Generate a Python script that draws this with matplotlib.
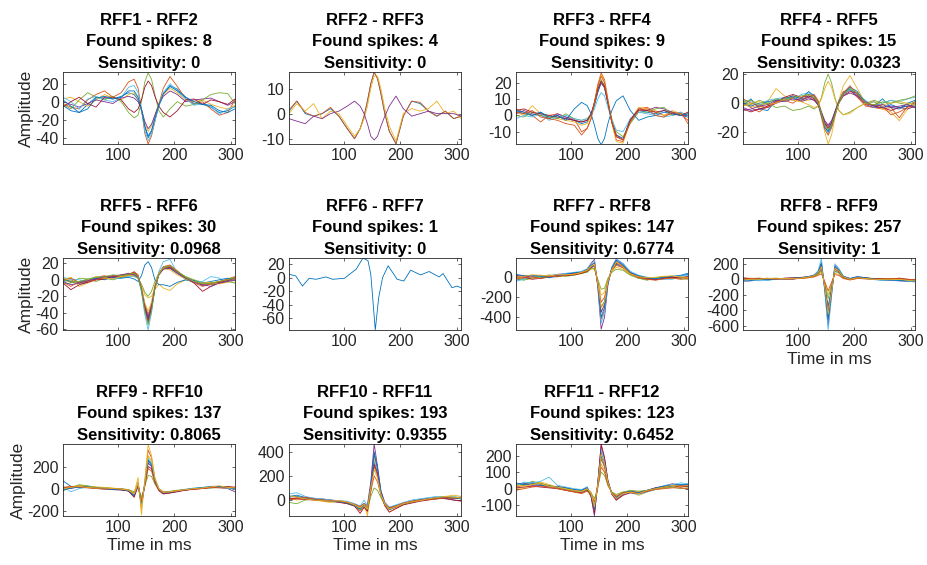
import matplotlib
matplotlib.use('Agg')
import matplotlib.pyplot as plt

plt.rcParams['font.family'] = ['Liberation Sans', 'DejaVu Sans']
plt.rcParams['axes.unicode_minus'] = False

# MATLAB default line colour order
COLORS = ['#0072BD', '#D95319', '#EDB120', '#7E2F8E', '#77AC30', '#4DBEEE', '#A2142F']

# DATA
# sample times (ms) where the waveforms were read off the picture
t = [1, 15, 30, 45, 60, 75, 90, 105, 118, 128, 135, 141, 147, 153, 159, 165, 172, 180, 192, 205, 220, 235, 250, 265, 280, 295, 308]

pairs = ['RFF1 - RFF2', 'RFF2 - RFF3', 'RFF3 - RFF4', 'RFF4 - RFF5', 'RFF5 - RFF6', 'RFF6 - RFF7',
         'RFF7 - RFF8', 'RFF8 - RFF9', 'RFF9 - RFF10', 'RFF10 - RFF11', 'RFF11 - RFF12']
found = [8, 4, 9, 15, 30, 1, 147, 257, 137, 193, 123]
sens = ['0', '0', '0', '0.0323', '0.0968', '0', '0.6774', '1', '0.8065', '0.9355', '0.6452']

p1 = [
    [-4, -10, -12, -3, 5, 4, 3, 6, 10, 8, 2, -10, -28, -40, -33, -20, -5, 8, 18, 14, 5, -2, -3, -6, -12, -10, -5],
    [-2, -6, -8, 2, 8, 12, 5, 10, 22, 25, 15, -8, -35, -47, -38, -22, -3, 15, 28, 17, 3, -3, 0, -8, -15, -12, 2],
    [3, 5, 0, -5, 2, 8, 4, 2, 8, 10, 4, -8, -24, -33, -27, -15, -2, 8, 15, 10, 2, 0, 2, -3, -6, -8, -4],
    [0, -3, -6, -2, 2, 0, -2, 4, 6, 4, 0, -8, -22, -30, -25, -15, -3, 6, 12, 8, 0, 2, 3, 4, 0, -4, 0],
    [-3, -8, 2, 10, 5, 2, 6, 0, -12, -18, -15, 0, 22, 32, 25, 8, -10, -17, -8, 0, -5, -3, 2, 8, 10, 9, -2],
    [5, 0, -8, 3, 6, 2, 0, 5, 16, 18, 10, -8, -32, -43, -36, -22, -5, 10, 20, 12, 3, -4, -2, -5, -14, -8, -6],
    [-6, 0, 5, -2, -6, 5, 5, 2, -8, -12, -8, 2, 16, 23, 18, 6, -5, -12, -17, -10, 2, 3, -3, 2, 0, -3, 3],
    [2, -5, -12, -8, 4, 6, 3, 5, 12, 12, 5, -8, -27, -38, -32, -18, -4, 9, 17, 12, 5, 0, -3, -4, -10, -12, -8],
]
p2 = [
    [1, 5, 0, -1, 0, 2, -1, -6, -10, -6, -1, 5, 12, 16.5, 14, 8, 0, -7, -12, -1, 5, 4, 1, -1, 1, -2, -1],
    [1.5, 5, 0.5, -1, 0, 2.5, -1, -6, -10, -6, -1, 5, 12, 16.5, 14, 8, 0, -7, -12, -1, 5, 4.5, 1, -1, 1, -2, -1],
    [0, 4, 1, 4, -2, 1, 0, -5, -9, -6, -2, 3, 10, 15, 15, 10, 2, -5, -11, 0, 2, 1, 2, 5, 0, 1, -2],
    [-2, -3, -4, -1, -2, 0, 1, 3, 5, 3, 0, -4, -9, -10.5, -9, -5, -1, 3, 7, 2, -1, 0, 1, 0, 0, 0, -1],
]
p3 = [
    [3, 1, 0, 2, -2, 0, -2, -3, -5, -4, 0, 6, 14, 20, 17, 8, -3, -12, -14, -3, 3, 2, 1, 3, 2, 0, -1],
    [4, 2, 0, -4, 0, 1, -1, -2, -10, -8, -2, 8, 19, 26, 22, 10, -4, -15, -16, -4, 4, 5, 2, 0, 1, 2, -5],
    [2, 0, 6, 1, 0, -2, -3, -4, -6, -5, 0, 8, 18, 25, 21, 9, -5, -16, -17, -3, 5, 4, 3, 0, 3, 1, 0],
    [1, 3, 1, 0, -2, 1, -1, -3, -4, -3, 1, 7, 15, 20, 17, 7, -4, -12, -15, -2, 3, 3, 5, 4, 2, 0, 0],
    [0, -1, 2, 0, -1, -2, 1, -2, -3, -2, 1, 7, 16, 22, 18, 8, -2, -10, -13, -5, 2, 2, 4, 5, 0, 1, 1],
    [-2, 0, -1, 1, -3, -1, 0, -2, -3, -2, 0, 4, 10, 14, 12, 5, -3, -9, -10, -2, 2, 1, 0, -1, 0, 2, 0],
    [3, 4, 2, 1, 0, -1, -2, -3, -4, -3, 1, 8, 16, 21, 18, 8, -4, -13, -15, -3, 4, 3, 2, 3, 1, 0, 2],
    [3, 2, 0, 2, -1, 0, -3, 4, 8, 6, 1, -6, -14, -18, -14, -5, 3, 9, 12, 3, -3, -1, 0, 2, 1, 0, 1],
    [2, 1, 3, -1, -2, -3, -5, -6, -12, -8, -2, 8, 18, 24, 20, 9, -4, -13, -15, -4, 3, 4, 0, -1, 2, 1, -3],
]
p4 = [
    [-2, 3, -4, -5, 2, 3, 4, 2, 5, 4, 0, -8, -16, -20, -16, -8, 0, 6, 10, 6, 0, -2, 3, -3, -4, 0, 2],
    [0, -3, -6, -2, 0, 3, 5, 3, 4, 6, 2, -6, -14, -18, -14, -6, 2, 8, 9, 4, -2, -3, -4, -3, -10, -2, -1],
    [-1, -2, -3, 1, 10, 5, 3, 2, 2, 3, -1, -10, -20, -28, -22, -10, 2, 12, 19, 10, 0, -2, -4, -6, -12, -4, 0],
    [-3, -5, -4, -3, 0, 2, 4, 1, 3, 2, -1, -7, -13, -16, -13, -6, 1, 6, 9, 5, -1, -3, -3, -2, -3, -4, -2],
    [1, -1, 2, 0, -3, -2, -5, -4, -2, -4, -2, 4, 14, 20, 14, 4, -5, -8, -6, -3, 0, 2, 0, 2, 0, -1, 1],
    [2, 1, -2, 2, 3, 4, 2, 6, 7, 5, 0, -8, -16, -21, -16, -7, 1, 7, 9, 6, 2, -3, 0, 2, 1, 3, 4],
    [-4, -6, -4, -2, 1, 4, 6, 4, 5, 3, -1, -7, -14, -17, -14, -7, 0, 5, 8, 7, 0, -2, -3, -5, -3, -2, -3],
    [0, -2, 0, 1, 2, 3, 5, 3, 8, 5, 0, -9, -17, -19, -15, -7, 1, 7, 11, 8, 0, 1, -3, -1, -3, -2, -1],
    [3, 0, -2, -3, 1, 2, 0, 4, 6, 5, 1, -8, -18, -22, -17, -9, 0, 7, 12, 6, -1, -1, -2, -8, -6, -3, 1],
    [-2, 0, 1, -1, 0, 3, 2, 1, -1, -3, -2, 3, 10, 15, 11, 3, -5, -8, -7, -3, 0, 1, -1, 0, 1, 0, -1],
    [-5, -4, -2, -1, 2, 1, 3, 2, 4, 2, -1, -6, -12, -15, -12, -6, 1, 5, 7, 5, 1, -2, -1, -3, -2, -1, -3],
    [1, 2, -1, 0, 3, 2, 4, 5, 6, 4, 0, -7, -15, -18, -15, -8, 0, 6, 10, 7, 0, -1, 1, 0, 2, 3, 5],
]
p5 = [
    [-2, 0, -5, -3, 2, 0, 3, 4, 5, 6, 3, -10, -30, -45, -30, -8, 8, 15, 14, 8, 2, -2, -5, -4, -3, 0, 2],
    [-3, -8, -2, 0, 3, 5, 2, 5, 7, 8, 4, -12, -35, -50, -35, -10, 6, 14, 16, 10, 3, -3, -6, -4, -2, 1, 4],
    [0, 3, -8, -4, 0, 2, 4, 3, 6, 5, 2, -8, -18, -22, -20, -12, -5, -10, -13, -5, 0, -2, -4, -6, -3, -2, -3],
    [2, -3, -4, -2, 1, 3, 5, 6, 8, 7, 3, -12, -36, -52, -36, -10, 7, 15, 17, 9, 3, -1, -7, -5, -4, -1, 1],
    [-5, -4, 2, 1, -2, 2, 0, 3, 5, 4, 2, -5, -15, -20, -14, -2, 8, 14, 15, 10, 4, 0, -3, -6, -4, -2, -4],
    [3, 1, 0, -2, 3, 4, 1, 2, 4, 5, 2, -15, -42, -61, -40, -10, 10, 22, 25, 8, 0, -3, -2, 4, 2, -3, 0],
    [-4, -12, -6, -3, 0, 1, 4, 5, 7, 9, 5, -10, -32, -48, -34, -10, 6, 13, 15, 10, 2, -4, -14, -8, -3, -1, 3],
    [1, -2, -3, 0, 2, 4, 3, 2, 3, 1, -2, 5, 18, 22, 15, 0, -6, -6, -8, -3, 0, -1, -4, -2, 0, 2, 0],
    [-1, 2, -3, -2, 0, 3, 5, 4, 6, 10, 6, -10, -30, -42, -30, -8, 7, 16, 18, 11, 2, -4, -8, -5, -2, 0, 2],
    [2, -1, -5, 0, 4, 2, 1, 4, 5, 6, 3, -9, -28, -38, -27, -6, 8, 14, 12, 6, 1, -2, -4, -3, -5, -3, 1],
    [-2, -6, -4, -1, 1, 4, 3, 6, 7, 6, 3, -11, -34, -47, -33, -9, 6, 13, 14, 8, 2, -3, -6, -8, -4, -2, 0],
    [0, -3, -2, 1, 3, 4, 6, 5, 7, 8, 4, -13, -38, -55, -38, -11, 6, 15, 17, 10, 3, -2, -5, -4, -2, 0, 3],
]
# single spike, read on its own time points
t6 = [1, 13, 25, 37, 49, 67, 79, 100, 121, 133, 142, 147, 155, 161, 168, 178, 194, 206, 218, 236, 251, 269, 276, 292, 301, 308]
p6 = [
    [5, 2.5, -12.5, -1, -2.5, 1, -2.5, -1, 12.5, 29, 25, 5, -77.5, -30, 0, 17.5, -2.5, -5, 11, 4, 9, 1, 6, -15, -12.5, -15],
]
p7 = [
    [-30, -10, 10, 0, 15, 20, 25, 40, 45, 60, 95, 110, -60, -300, -240, -40, 80, 130, 100, 40, 0, -20, -10, 0, -5, 10, 30],
    [10, 20, 0, 15, 10, 5, 30, 25, 50, 70, 120, 150, -80, -420, -330, -60, 90, 160, 110, 30, -10, -20, -15, -5, 5, 0, -5],
    [0, -20, -15, 5, 25, 10, 20, 30, 35, 55, 80, 90, -30, -180, -150, -20, 60, 100, 80, 30, 5, 0, -10, -20, 10, 5, 0],
    [20, 5, 10, 20, 10, 30, 35, 40, 55, 80, 140, 180, -100, -520, -400, -80, 100, 185, 130, 50, 10, -10, -20, -10, 0, -10, 10],
    [-10, -30, -5, 0, 5, 15, 10, 20, 40, 50, 90, 80, -20, -120, -110, -10, 50, 80, 70, 20, -10, -30, -5, 10, 0, -15, -20],
    [-40, -20, 10, 15, 20, 25, 40, 50, 60, 85, 130, 170, -90, -460, -350, -70, 100, 180, 140, 60, 20, 0, -10, -20, -20, 10, 20],
    [5, 0, -20, -10, 0, 20, 15, 25, 40, 60, 100, 120, -70, -350, -270, -50, 80, 140, 110, 40, 0, -15, -25, -10, 0, -5, 5],
    [30, 15, 20, 10, -5, 10, 30, 45, 50, 75, 120, 140, -60, -400, -300, -60, 90, 170, 120, 45, 15, -5, -15, 0, 10, 20, 40],
    [-15, -5, 5, -15, 10, 5, 20, 35, 45, 65, 105, 125, -50, -250, -200, -40, 70, 120, 95, 35, 0, -20, -30, -15, -10, -20, -10],
    [0, 10, 25, 20, 15, 25, 25, 30, 50, 70, 110, 130, -60, -300, -250, -40, 75, 150, 105, 35, 5, -5, 0, 10, 15, 0, 0],
]
p8 = [
    [-20, 0, 10, -10, 5, 0, 10, 20, 30, 40, 70, 120, -80, -350, -120, 100, 90, 20, 0, 20, 10, 0, -10, 0, -10, -20, -30],
    [10, -10, 0, 15, 0, 10, 5, 15, 25, 50, 90, 180, -100, -500, -150, 150, 110, 30, 5, 25, 15, 5, 0, -5, 10, -10, -15],
    [0, 15, 5, 0, 10, -5, 15, 10, 20, 35, 60, 90, -40, -200, -60, 80, 60, 15, -5, 10, 20, 10, 5, 0, -5, -5, -10],
    [-30, -20, -10, 0, -5, 5, 0, 20, 35, 55, 100, 220, -150, -600, -200, 180, 130, 40, 10, 30, 20, 0, -10, -15, -20, -30, -25],
    [5, 10, -5, 10, 15, 5, 10, 15, 25, 40, 70, 110, -60, -250, -80, 110, 80, 20, 0, 15, 5, 5, 10, 10, 0, -10, -20],
    [-35, -10, -20, -15, 0, 0, 10, 20, 30, 55, 110, 270, -160, -656, -220, 200, 140, 40, 5, 25, 10, -5, -15, -10, -20, -25, -35],
    [15, 5, 10, 5, 0, 15, 20, 25, 30, 45, 80, 150, -90, -420, -140, 130, 100, 25, 0, 20, 15, 10, 5, 0, 15, 0, -10],
    [0, -15, 5, -5, 10, 10, 15, 20, 35, 50, 90, 200, -120, -520, -180, 160, 120, 35, 10, 35, 20, 5, -5, -10, -15, -20, -20],
    [20, 10, 15, 5, 10, 0, 5, 10, 20, 30, 50, 70, -30, -150, -40, 60, 50, 10, -10, 10, 5, 0, 5, 10, 5, 0, -5],
    [-10, 0, 0, 10, 5, 10, 10, 15, 30, 45, 85, 160, -100, -450, -160, 140, 110, 30, 0, 20, 10, 0, -5, -5, 0, -15, -20],
]
p9 = [
    [70, 20, 10, 15, 5, 0, -5, -10, -20, -60, 30, -120, 40, 250, 210, 80, -10, -40, -30, -20, -10, 0, 5, 10, 15, 5, 0],
    [0, 10, 25, 20, 10, 5, 0, -5, -15, -50, 60, -180, 60, 350, 280, 90, 0, -30, -40, -25, -10, 0, 0, 10, 20, 10, 5],
    [-10, 5, 30, 20, 15, 10, 5, -5, -10, -40, 100, -240, 80, 400, 300, 100, 0, -40, -35, -20, -15, -5, 0, 5, 10, 5, 10],
    [10, 0, 15, 10, 0, -5, -10, -15, -20, -70, 40, -150, 30, 230, 200, 70, -10, -45, -40, -25, -15, -5, 0, 15, 10, 0, -30],
    [-20, 10, 35, 25, 10, 5, 0, 0, -10, -30, 20, -80, 20, 120, 110, 40, -10, -30, -25, -15, -10, 0, 5, 5, 15, 10, 0],
    [20, -30, 0, 10, 5, 0, -5, -5, -15, -55, 50, -160, 50, 280, 230, 80, -5, -35, -30, -25, -5, 5, 10, 5, 10, 0, -5],
    [5, 15, 20, 10, 5, 0, -5, -10, -25, -80, 20, -130, 30, 200, 180, 60, -20, -50, -40, -30, -15, -5, 0, 10, 15, 20, 10],
    [-15, 5, 15, 15, 5, 0, -10, -10, -20, -65, 40, -140, 40, 260, 220, 75, -10, -40, -35, -20, -10, 0, 10, 20, 20, 10, 0],
    [10, 20, 15, 5, 0, -5, 0, -5, -15, -45, 30, -110, 30, 180, 160, 50, -15, -35, -30, -20, -10, -5, 0, 10, 5, 5, 15],
    [0, 10, 20, 10, 5, 5, 0, -5, -15, -50, 50, -170, 50, 300, 250, 90, 0, -35, -30, -20, -10, 0, 5, 15, 25, 10, 5],
]
p10 = [
    [30, 40, 20, 10, 0, -5, -10, -20, -40, -70, -30, -60, 120, 400, 250, 60, -40, -70, -50, -30, -10, 0, 10, 20, 30, 20, 10],
    [10, 20, 25, 5, 10, 0, -15, -30, -50, -90, -50, -100, 80, 280, 200, 50, -30, -80, -60, -35, -20, -5, 5, 15, 20, 10, 20],
    [20, 0, 10, 0, -10, -20, -10, -25, -45, -60, -40, -130, 60, 350, 230, 40, -50, -100, -70, -40, -20, 0, 10, 25, 30, 40, 30],
    [0, 15, 20, 15, 5, 0, -5, -15, -35, -50, -30, -40, 150, 463, 280, 80, -20, -60, -45, -25, -10, 5, 15, 20, 10, 0, -10],
    [-20, -30, 0, 5, 0, -5, -10, -25, -40, -80, -60, -80, 30, 100, 80, 20, -40, -70, -50, -30, -15, 0, 5, 10, 15, 20, 10],
    [50, 60, 30, 15, 10, 0, -5, -10, -30, -50, 0, -50, 100, 320, 230, 60, -25, -60, -40, -20, 0, 10, 20, 30, 25, 30, 20],
    [15, 10, 5, 0, -5, -10, -20, -30, -50, -110, -60, -90, 90, 300, 220, 50, -45, -100, -70, -40, -25, -10, 0, 10, 15, 0, -5],
    [25, 30, 15, 5, 0, -10, -15, -25, -45, -75, -40, -70, 110, 380, 260, 70, -35, -80, -55, -30, -15, 0, 10, 20, 25, 15, 10],
    [5, 10, 20, 10, 0, -5, -10, -20, -35, -55, -30, -60, 70, 200, 150, 40, -30, -65, -50, -25, -10, 0, 5, 10, 20, 15, 25],
    [35, 25, 10, 0, -5, -10, -5, -15, -40, -65, -35, -75, 100, 250, 180, 45, -35, -75, -55, -30, -15, -5, 10, 20, 30, 25, 15],
]
p11 = [
    [20, 30, 40, 25, 20, 10, 0, -5, -10, -5, -40, -130, 30, 220, 150, 40, -30, -60, -30, -20, -30, -15, 0, 10, 15, 20, 15],
    [10, 20, 30, 35, 15, 5, -5, -10, -15, 5, -30, -100, 20, 180, 130, 30, -25, -50, -25, -15, -20, -10, 5, 15, 20, 10, 30],
    [0, 5, 25, 40, 25, 10, 0, -15, -20, 0, -20, -90, 0, 150, 110, 20, -20, -40, -20, -20, -40, -20, -5, 5, 10, 15, 10],
    [25, 35, 20, 20, 10, 15, 5, -10, -10, 10, -50, -165, 40, 260, 180, 50, -30, -65, -35, -20, -25, -10, 5, 15, 30, 20, 20],
    [30, 20, 45, 30, 20, 5, -5, -15, -20, -5, -25, -60, 10, 100, 80, 20, -20, -35, -20, -10, -15, -10, 0, 5, 10, 0, 5],
    [15, 40, 35, 45, 70, 20, 10, 0, -5, 10, -40, -140, 30, 240, 170, 45, -25, -55, -30, -25, -35, -20, -5, 20, 25, 35, 30],
    [5, 10, 15, 10, 5, 0, -10, -20, -25, -10, -45, -150, 35, 270, 190, 50, -35, -70, -40, -25, -30, -15, 0, 10, 20, 10, 15],
    [35, 25, 30, 20, 15, 10, 5, -5, -10, 5, -35, -120, 25, 200, 140, 35, -25, -55, -25, -15, -25, -10, 5, 15, 20, 25, 25],
    [-10, 0, 10, 15, 10, 0, -10, -20, -30, -15, -35, -80, 10, 130, 100, 25, -25, -45, -25, -20, -30, -15, -5, 0, 5, 5, 0],
    [20, 15, 25, 30, 15, 10, 0, -10, -15, 0, -30, -110, 25, 210, 150, 40, -30, -60, -30, -20, -30, -10, 0, 10, 20, 15, 20],
]

panels = [p1, p2, p3, p4, p5, p6, p7, p8, p9, p10, p11]
times = [t, t, t, t, t, t6, t, t, t, t, t]

# axis settings (MATLAB 'axis tight' limits)
ylims = [(-47, 33), (-12.1, 16.6), (-17.5, 26.6), (-28, 21.4), (-61, 26.5), (-77.5, 29),
         (-528, 193), (-656, 275), (-250, 405), (-132, 463), (-165, 270)]
yticks = [[-40, -20, 0, 20], [-10, 0, 10], [-10, 0, 10, 20], [-20, 0, 20], [-60, -40, -20, 0, 20],
          [-60, -40, -20, 0, 20], [-400, -200, 0], [-600, -400, -200, 0, 200], [-200, 0, 200],
          [0, 200, 400], [-100, 0, 100, 200]]

W, H = 927, 565
fig = plt.figure(figsize=(W / 100, H / 100), dpi=100)

left_px = [63, 289, 516, 743]
top_px = [72, 258, 444]
aw, ah = 172, 72

for i, traces in enumerate(panels):
    row, col = i // 4, i % 4
    ax = fig.add_axes([left_px[col] / W, 1 - (top_px[row] + ah) / H, aw / W, ah / H])
    for k, y in enumerate(traces):
        ax.plot(times[i], y, color=COLORS[k % 7], lw=0.6)
    ax.set_xlim(1, 308)
    ax.set_ylim(*ylims[i])
    ax.set_xticks([100, 200, 300])
    ax.set_yticks(yticks[i])
    ax.tick_params(direction='in', length=2.5, width=0.5, top=True, right=True,
                   labelsize=11.5, colors='#262626', pad=3)
    for s in ax.spines.values():
        s.set_linewidth(0.6)
        s.set_color('#262626')
    ax.set_title(pairs[i] + '\nFound spikes: ' + str(found[i]) + '\nSensitivity: ' + sens[i],
                 fontsize=12, fontweight='bold', linespacing=1.55, pad=3)
    if col == 0:
        ax.set_ylabel('Amplitude', fontsize=12.5, color='#262626', labelpad=1)
    if i >= 7:
        ax.set_xlabel('Time in ms', fontsize=12.5, color='#262626', labelpad=2)

fig.savefig('out.png', dpi=100)
